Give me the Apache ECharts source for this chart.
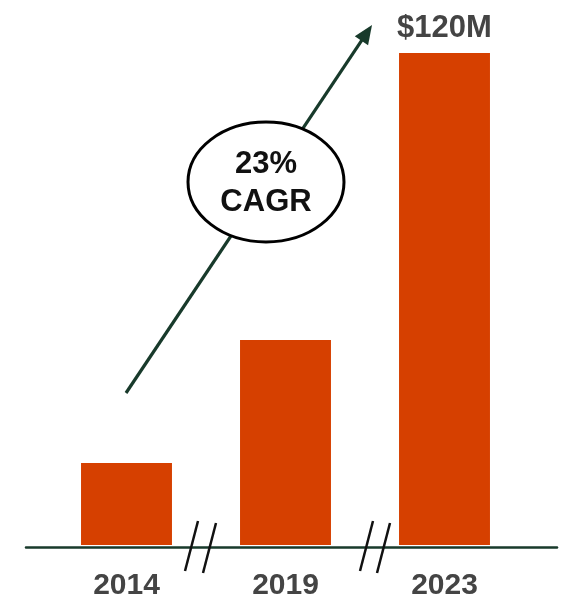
<!DOCTYPE html>
<html>
<head>
<meta charset="utf-8">
<script src="https://cdn.jsdelivr.net/npm/echarts@6/dist/echarts.min.js"></script>
<style>
  html, body { margin: 0; padding: 0; background: #fff; }
  #chart { width: 562px; height: 601px; }
</style>
</head>
<body>
<div id="chart"></div>
<script>
// Revenue by year (USD millions)
const years = ['2014', '2019', '2023'];
const revenue = [20, 50, 120];
const growthLabel = ['23%', 'CAGR'];
const valueLabels = { 2: '$120M' };

const barColor = '#d64000';
const inkGreen = '#183a2b';
const labelGray = '#444444';
const fontFamily = 'Liberation Sans, Arial, Helvetica, sans-serif';

const chart = echarts.init(document.getElementById('chart'), null, { renderer: 'canvas' });

const option = {
  animation: false,
  textStyle: { fontFamily },
  grid: [
    { left: 47, right: 38, top: 53, bottom: 54 },
    // full-width grid used only for the baseline rule
    { left: 26, right: 5, top: 53, bottom: 54 }
  ],
  xAxis: [
    {
      type: 'category',
      gridIndex: 0,
      data: years,
      axisLine: { show: false },
      axisTick: { show: false },
      axisLabel: {
        margin: 26,
        fontSize: 30,
        fontWeight: 'bold',
        color: labelGray,
        fontFamily
      }
    },
    {
      type: 'value',
      gridIndex: 1,
      min: 0,
      max: 1,
      axisLine: { show: true, lineStyle: { color: inkGreen, width: 2.5 } },
      axisTick: { show: false },
      axisLabel: { show: false },
      splitLine: { show: false }
    }
  ],
  yAxis: [
    { type: 'value', gridIndex: 0, min: 0, max: 120, show: false },
    { type: 'value', gridIndex: 1, min: 0, max: 1, show: false }
  ],
  series: [
    {
      type: 'bar',
      xAxisIndex: 0,
      yAxisIndex: 0,
      data: revenue,
      barWidth: '57.2%',
      itemStyle: { color: barColor },
      z: 1,
      label: {
        show: true,
        position: 'top',
        distance: 9,
        fontSize: 31,
        fontWeight: 'bold',
        color: labelGray,
        fontFamily,
        formatter: p => valueLabels[p.dataIndex] || ''
      }
    }
  ]
};

chart.setOption(option);

// Axis break marks, growth arrow and CAGR badge
function slash(x1, y1, x2, y2) {
  return {
    type: 'line',
    shape: { x1, y1, x2, y2 },
    style: { stroke: '#111', lineWidth: 2.5 },
    z: 10
  };
}

const tail = [126, 393];
const tip = [372, 25];
const dx = tip[0] - tail[0], dy = tip[1] - tail[1];
const len = Math.hypot(dx, dy);
const ux = dx / len, uy = dy / len;
const headLen = 19, headHalf = 8;
const bx = tip[0] - ux * headLen, by = tip[1] - uy * headLen;
const px = -uy, py = ux;

chart.setOption({
  graphic: [
    slash(198, 521, 185, 571),
    slash(216, 523, 203, 573),
    slash(373, 521, 360, 571),
    slash(390, 523, 377, 573),
    {
      type: 'line',
      shape: { x1: tail[0], y1: tail[1], x2: bx + ux * 2, y2: by + uy * 2 },
      style: { stroke: inkGreen, lineWidth: 3.2 },
      z: 5
    },
    {
      type: 'polygon',
      shape: {
        points: [
          [tip[0], tip[1]],
          [bx + px * headHalf, by + py * headHalf],
          [bx - px * headHalf, by - py * headHalf]
        ]
      },
      style: { fill: inkGreen },
      z: 5
    },
    {
      type: 'ellipse',
      shape: { cx: 266, cy: 182, rx: 78, ry: 60 },
      style: { fill: '#fff', stroke: '#000', lineWidth: 3 },
      z: 6
    },
    {
      type: 'text',
      x: 266,
      y: 164,
      style: {
        text: growthLabel[0],
        fontSize: 31,
        fontWeight: 'bold',
        fontFamily,
        fill: '#111',
        align: 'center',
        verticalAlign: 'middle'
      },
      z: 7
    },
    {
      type: 'text',
      x: 266,
      y: 202,
      style: {
        text: growthLabel[1],
        fontSize: 31,
        fontWeight: 'bold',
        fontFamily,
        fill: '#111',
        align: 'center',
        verticalAlign: 'middle'
      },
      z: 7
    }
  ]
});
</script>
</body>
</html>
